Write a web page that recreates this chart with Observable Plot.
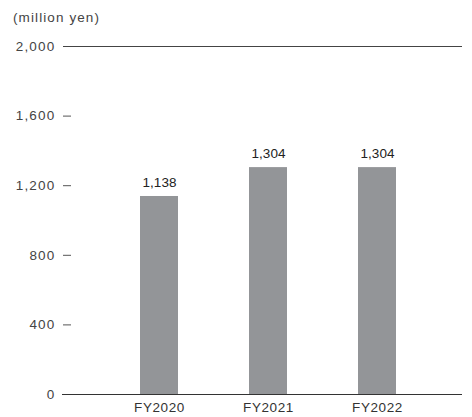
<!DOCTYPE html>
<html>
<head>
<meta charset="utf-8">
<script src="https://cdn.jsdelivr.net/npm/d3@7"></script>
<script src="https://cdn.jsdelivr.net/npm/@observablehq/plot@0.6"></script>
<style>
  body { margin: 0; background: #fff; font-family: "Liberation Sans", Arial, sans-serif; }
  #title { height: 24px; padding-top: 8px; padding-left: 13px; font-size: 13.5px; letter-spacing: 1.1px; line-height: 20px; color: #444; }
  .yax text { letter-spacing: 1.2px; }
  .xax text { letter-spacing: 0.6px; }
</style>
</head>
<body>
<div id="title">(million yen)</div>
<div id="chart"></div>
<script>
const years = ["FY2020", "FY2021", "FY2022"];
const values = [1138, 1304, 1304];
const yTicks = [0, 400, 800, 1200, 1600, 2000];

const data = years.map((y, i) => ({year: y, value: values[i]}));
const fmt = d3.format(",");

const chart = Plot.plot({
  width: 472,
  height: 385,
  marginTop: 14,
  marginBottom: 23,
  marginLeft: 62,
  marginRight: 10,
  style: {fontFamily: "Liberation Sans, Arial, sans-serif", fontSize: "13.5px", color: "#444", background: "#fff"},
  x: {domain: years, padding: 0.653, align: 0.54, label: null},
  y: {domain: [0, 2000], label: null},
  marks: [
    Plot.barY(data, {x: "year", y: "value", fill: "#939598"}),
    Plot.ruleY([0], {stroke: "#333", strokeWidth: 1.2}),
    Plot.ruleY([2000], {stroke: "#444", strokeWidth: 1.2, insetLeft: 1}),
    Plot.ruleY(yTicks.filter(d => d > 0 && d < 2000), {stroke: "#555", strokeWidth: 1, insetLeft: 1, insetRight: 391}),
    Plot.axisY(yTicks, {tickSize: 0, tickPadding: 7, tickFormat: fmt, fontSize: 13.5, fill: "#444", className: "yax"}),
    Plot.axisX({tickSize: 0, tickPadding: 8, fontSize: 13.5, fill: "#333", className: "xax"}),
    Plot.text(data, {x: "year", y: "value", text: d => fmt(d.value), dy: -14, fontSize: 13.5, fill: "#222"})
  ]
});
document.getElementById("chart").appendChild(chart);
</script>
</body>
</html>
